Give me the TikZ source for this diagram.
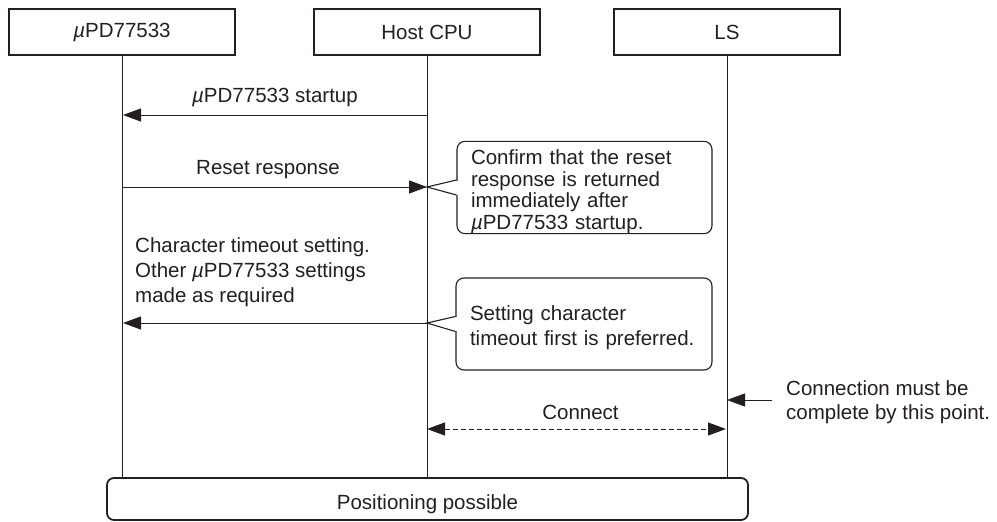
\documentclass[tikz,border=0pt]{standalone}
\usepackage{fontspec}
\setmainfont{Liberation Sans}
\usetikzlibrary{arrows.meta,calc}
\definecolor{ink}{HTML}{231F20}
\newcommand\muPD{{\itshape µ}PD77533}
\begin{document}
\begin{tikzpicture}[x=1pt,y=-1pt,
  every node/.style={font=\fontsize{20.5}{24}\selectfont, text=ink},
  actor/.style={draw=ink, line width=1.8pt, minimum width=226pt, minimum height=46pt, inner sep=0pt},
  life/.style={draw=ink, line width=1pt},
  msg/.style={draw=ink, line width=1pt, -{Triangle[length=18pt,width=13pt]}},
  dmsg/.style={draw=ink, line width=1pt, dash pattern=on 5pt off 3pt, {Triangle[length=18pt,width=13pt]}-{Triangle[length=18pt,width=13pt]}},
  note/.style={draw=ink, line width=1.1pt, rounded corners=8pt, inner xsep=14pt, inner ysep=0pt, align=left},
  bigbox/.style={draw=ink, line width=1.8pt, rounded corners=7pt, minimum width=641pt, minimum height=42pt, inner sep=0pt, text height=21pt, text depth=1pt},
  lbl/.style={inner sep=0pt}
]
\useasboundingbox (0,0) rectangle (997,522);
% actors
\node[actor] (mpd) at (122,32) {\muPD};
\node[actor] (host) at (427,32) {Host CPU};
\node[actor] (ls) at (727,32) {LS};
% bottom box
\node[bigbox] (pos) at (427.5,499) {Positioning possible};
% lifeline ends
\coordinate (mpdE) at (mpd.south |- pos.north);
\coordinate (hostE) at (host.south |- pos.north);
\coordinate (lsE) at (ls.south |- pos.north);
\draw[life] (mpd.south) -- (mpdE);
\draw[life] (host.south) -- (hostE);
\draw[life] (ls.south) -- (lsE);
% message points
\coordinate (h1) at (427,115); \coordinate (p1) at (123,115);
\coordinate (p2) at (123,187); \coordinate (h2) at (427,187);
\coordinate (h3) at (427,323); \coordinate (p3) at (123,323);
\coordinate (h4) at (427,429); \coordinate (l4) at (726,429);
\coordinate (l5) at (727,400); \coordinate (a5) at (772,400);
% callouts
\node[note, font=\fontsize{20.5}{21.7}\selectfont, text width=227pt, minimum height=91pt] (c1) at (584.5,187.5)
  {\rule{0pt}{23pt}Confirm that the reset\\response is returned\\immediately after\\\muPD{} startup.};
\node[note, font=\fontsize{20.5}{25}\selectfont, text width=228pt, minimum height=92pt] (c2) at (584,324)
  {\rule{0pt}{23pt}Setting character\\timeout first is preferred.};
\fill[white] ($(c1.west)+(-1.5,-7)$) rectangle ($(c1.west)+(1.5,7)$);
\fill[white] ($(c2.west)+(-1.5,-7)$) rectangle ($(c2.west)+(1.5,7)$);
\draw[draw=ink, line width=1.1pt] ($(c1.west)+(0,-7.5)$) -- (h2) -- ($(c1.west)+(0,7.5)$);
\draw[draw=ink, line width=1.1pt] ($(c2.west)+(0,-7.5)$) -- (h3) -- ($(c2.west)+(0,7.5)$);
% messages
\draw[msg] (h1) -- (p1) node[lbl, midway, yshift=18pt] (t1) {\muPD{} startup};
\draw[msg] (p2) -- (h2) node[lbl, midway, yshift=17pt, xshift=-7pt] (t2) {Reset response};
\draw[msg] (h3) -- (p3);
\node[lbl, anchor=west, align=left, font=\fontsize{20.5}{25}\selectfont] (t3) at (135,272)
  {Character timeout setting.\\Other \muPD{} settings\\made as required};
\draw[dmsg] (h4) -- (l4) node[lbl, midway, yshift=17pt, xshift=4pt] (t4) {Connect};
\draw[msg] (a5) -- (l5);
\node[lbl, anchor=west, align=left] (t5) at (786,402) {Connection must be\\complete by this point.};
\end{tikzpicture}
\end{document}
